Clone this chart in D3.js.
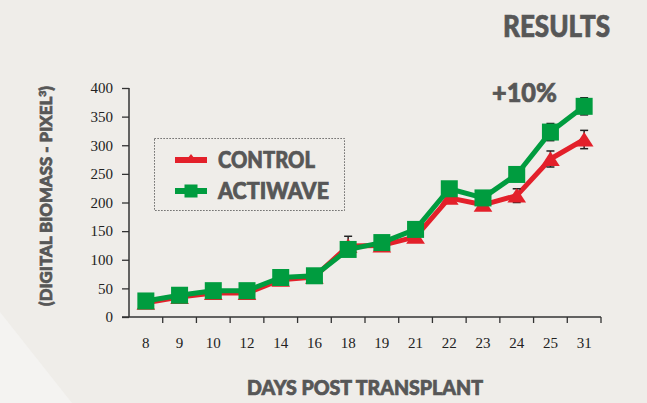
<!DOCTYPE html>
<html>
<head>
<meta charset="utf-8">
<script src="https://cdn.jsdelivr.net/npm/d3@7"></script>
<style>
  body { margin: 0; background: #efede9; }
  svg { display: block; }
  .title { font-family: Lato, "DejaVu Sans", sans-serif; font-weight: 900; fill: #575757; stroke: #575757; stroke-width: 0.7px; }
  .tick text { font-family: "Liberation Serif", "DejaVu Serif", serif; font-size: 15px; fill: #222; }
</style>
</head>
<body>
<div class="chartContainer"></div>
<script>
// days post transplant (x categories)
var days = ["8", "9", "10", "12", "14", "16", "18", "19", "21", "22", "23", "24", "25", "31"];
// digital biomass values
var control = [25, 35, 42, 42, 65, 70, 124, 125, 140, 208, 196, 212, 276, 310];
var controlErr = [3, 3, 3, 3, 4, 4, 17, 5, 5, 6, 6, 12, 14, 16];
var actiwave = [28, 38, 46, 46, 69, 72, 118, 130, 153, 224, 208, 249, 323, 368];
var actiwaveErr = [3, 3, 3, 3, 4, 4, 5, 5, 6, 6, 6, 6, 15, 15];
var yTicks = [0, 50, 100, 150, 200, 250, 300, 350, 400];

var width = 647,
    height = 403;

var red = "#e3202a",
    green = "#009c3f";

var svg = d3.select("div.chartContainer")
    .append("svg")
    .attr("width", width)
    .attr("height", height);

// lighter paper fold in bottom left corner
svg.append("path")
    .attr("d", "M0,312 L72,403 L0,403 Z")
    .attr("fill", "#f4f3f1");

//scales
var x = d3.scaleBand()
    .domain(days)
    .range([129, 601]);

var y = d3.scaleLinear()
    .domain([0, 400])
    .range([317, 88]);

//y axis
var yAxis = svg.append("g")
    .attr("transform", "translate(129,0)")
    .call(d3.axisLeft(y).tickValues(yTicks).tickSize(7).tickPadding(9));

//x axis, ticks sit on band edges
var xAxis = svg.append("g")
    .attr("transform", "translate(0,317)")
    .call(d3.axisBottom(x).tickSize(0).tickPadding(20));

xAxis.selectAll(".tick-edge")
    .data(days.map(function(d){ return x(d) + x.bandwidth(); }))
    .enter()
    .append("line")
    .attr("x1", function(d){ return d; })
    .attr("x2", function(d){ return d; })
    .attr("y1", 0)
    .attr("y2", 6)
    .attr("stroke", "#333")
    .attr("stroke-width", 1.3);

[yAxis, xAxis].forEach(function(ax){
    ax.select(".domain").remove();
    ax.selectAll(".tick line").attr("stroke", "#333").attr("stroke-width", 1.3);
});

svg.append("line")
    .attr("x1", 129).attr("x2", 129)
    .attr("y1", y(400)).attr("y2", y(0))
    .attr("stroke", "#333").attr("stroke-width", 1.5);
svg.append("line")
    .attr("x1", 122).attr("x2", 601)
    .attr("y1", y(0)).attr("y2", y(0))
    .attr("stroke", "#333").attr("stroke-width", 1.5);

function cx(i){
    return x(days[i]) + x.bandwidth() / 2;
}

var line = d3.line()
    .x(function(d, i){ return cx(i); })
    .y(function(d){ return y(d); });

var triangle = function(s){
    return "M0," + (-s * 0.5) + " L" + (s * 0.55) + "," + (s * 0.35) + " L" + (-s * 0.55) + "," + (s * 0.35) + " Z";
};

function drawSeries(values, errs, color, isSquare){
    var g = svg.append("g");

    g.append("path")
        .datum(values)
        .attr("d", line)
        .attr("fill", "none")
        .attr("stroke", color)
        .attr("stroke-width", 5)
        .attr("stroke-linejoin", "round");

    //error bars behind markers
    var eb = g.selectAll(".err")
        .data(values)
        .enter()
        .append("g")
        .attr("stroke", "#222")
        .attr("stroke-width", 1.5);
    eb.append("line")
        .attr("x1", function(d, i){ return cx(i); })
        .attr("x2", function(d, i){ return cx(i); })
        .attr("y1", function(d, i){ return y(d + errs[i]); })
        .attr("y2", function(d, i){ return y(d - errs[i]); });
    eb.append("line")
        .attr("x1", function(d, i){ return cx(i) - 4; })
        .attr("x2", function(d, i){ return cx(i) + 4; })
        .attr("y1", function(d, i){ return y(d + errs[i]); })
        .attr("y2", function(d, i){ return y(d + errs[i]); });
    eb.append("line")
        .attr("x1", function(d, i){ return cx(i) - 4; })
        .attr("x2", function(d, i){ return cx(i) + 4; })
        .attr("y1", function(d, i){ return y(d - errs[i]); })
        .attr("y2", function(d, i){ return y(d - errs[i]); });

    if (isSquare){
        g.selectAll(".mark")
            .data(values)
            .enter()
            .append("rect")
            .attr("x", function(d, i){ return cx(i) - 8.5; })
            .attr("y", function(d){ return y(d) - 8.5; })
            .attr("width", 17)
            .attr("height", 17)
            .attr("fill", color);
    } else {
        g.selectAll(".mark")
            .data(values)
            .enter()
            .append("path")
            .attr("d", triangle(17))
            .attr("transform", function(d, i){ return "translate(" + cx(i) + "," + (y(d) + 1) + ")"; })
            .attr("fill", color);
    }
}

drawSeries(control, controlErr, red, false);
drawSeries(actiwave, actiwaveErr, green, true);

//legend
var legend = svg.append("g");
legend.append("rect")
    .attr("x", 154.5).attr("y", 138.5)
    .attr("width", 190).attr("height", 72)
    .attr("fill", "none")
    .attr("stroke", "#444")
    .attr("stroke-width", 1)
    .attr("stroke-dasharray", "1.2,1.8");

var legendItems = [
    {name: "CONTROL", color: red, square: false, y: 160},
    {name: "ACTIWAVE", color: green, square: true, y: 191}
];

legendItems.forEach(function(item){
    legend.append("line")
        .attr("x1", 175).attr("x2", 207)
        .attr("y1", item.y).attr("y2", item.y)
        .attr("stroke", item.color)
        .attr("stroke-width", 6);
    if (item.square){
        legend.append("rect")
            .attr("x", 184.5).attr("y", item.y - 6.5)
            .attr("width", 13).attr("height", 13)
            .attr("fill", item.color);
    } else {
        legend.append("path")
            .attr("d", "M0,-6 L7,3 L-7,3 Z")
            .attr("transform", "translate(191," + item.y + ")")
            .attr("fill", item.color);
    }
    legend.append("text")
        .attr("class", "title")
        .attr("x", 218)
        .attr("y", item.y + 8)
        .attr("font-size", 22)
        .attr("textLength", item.square ? 111 : 97)
        .attr("lengthAdjust", "spacingAndGlyphs")
        .text(item.name);
});

//titles
svg.append("text")
    .attr("class", "title")
    .attr("x", 503).attr("y", 37)
    .attr("font-size", 30)
    .attr("textLength", 107)
    .attr("lengthAdjust", "spacingAndGlyphs")
    .text("RESULTS");

svg.append("text")
    .attr("class", "title")
    .attr("x", 492).attr("y", 102)
    .attr("font-size", 27)
    .attr("textLength", 65)
    .attr("lengthAdjust", "spacingAndGlyphs")
    .text("+10%");

svg.append("text")
    .attr("class", "title")
    .attr("x", 365).attr("y", 395)
    .attr("text-anchor", "middle")
    .attr("font-size", 20)
    .attr("textLength", 236)
    .attr("lengthAdjust", "spacingAndGlyphs")
    .text("DAYS POST TRANSPLANT");

var yLabel = svg.append("text")
    .attr("class", "title")
    .attr("transform", "translate(52,196) rotate(-90)")
    .attr("text-anchor", "middle")
    .attr("font-size", 16)
    .attr("textLength", 220)
    .attr("lengthAdjust", "spacingAndGlyphs");
yLabel.append("tspan").text("(DIGITAL BIOMASS - PIXEL");
yLabel.append("tspan").attr("font-size", 10).attr("dy", -6).text("3");
yLabel.append("tspan").attr("dy", 6).text(")");
</script>
</body>
</html>
